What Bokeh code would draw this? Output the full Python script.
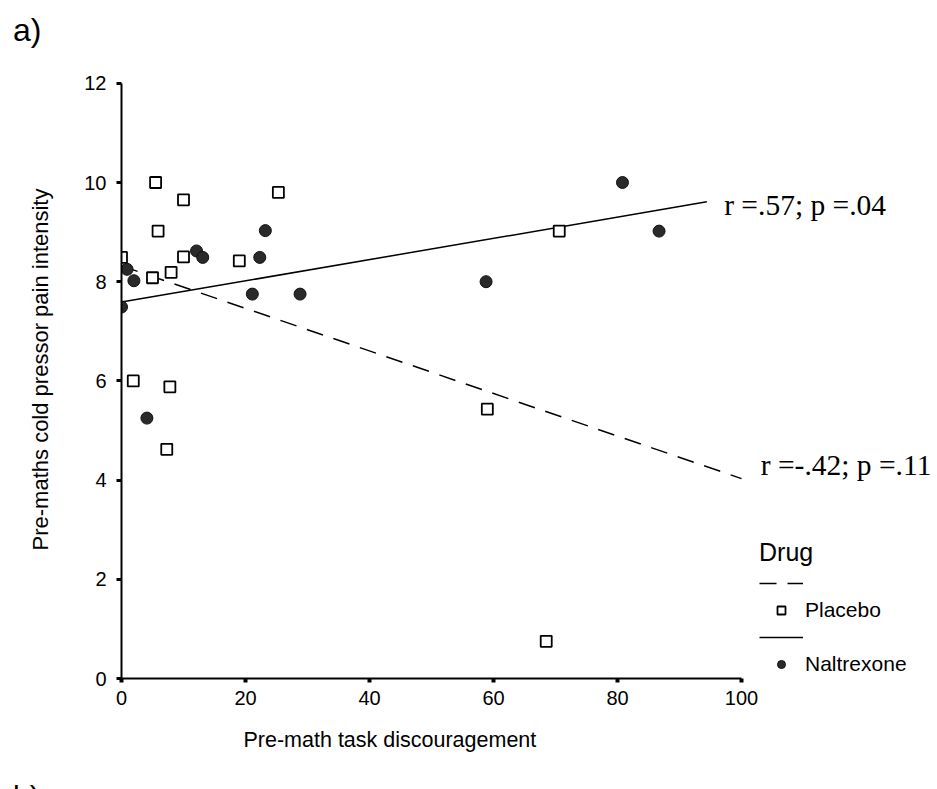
from bokeh.plotting import figure
from bokeh.layouts import column
from bokeh.models import Range1d, FixedTicker, Label, Legend, LegendItem, Title, Div
from bokeh.core.properties import value
from bokeh.embed import file_html
from bokeh.resources import INLINE

# Pre-math task discouragement (x) vs pre-maths cold pressor pain intensity (y)
placebo_x = [5.5, 10.0, 25.3, 5.9, 0.0, 10.0, 19.0, 8.0, 5.0, 1.9, 7.8, 7.3, 59.0, 68.5, 70.6]
placebo_y = [10.0, 9.65, 9.8, 9.02, 8.49, 8.5, 8.42, 8.19, 8.08, 6.0, 5.88, 4.62, 5.43, 0.75, 9.02]

naltrexone_x = [12.1, 13.1, 23.2, 22.3, 0.9, 2.0, 21.1, 28.8, 0.0, 4.1, 58.8, 80.8, 86.7]
naltrexone_y = [8.62, 8.49, 9.03, 8.49, 8.25, 8.02, 7.75, 7.75, 7.49, 5.25, 8.0, 10.0, 9.02]

# Linear fit lines per group
placebo_fit_x = [0.0, 100.0]
placebo_fit_y = [8.32, 4.03]
naltrexone_fit_x = [0.0, 94.4]
naltrexone_fit_y = [7.59, 9.61]

x_ticks = [0, 20, 40, 60, 80, 100]
y_ticks = [0, 2, 4, 6, 8, 10, 12]

SANS = "Liberation Sans"
SERIF = "Liberation Serif"

# Panel letter above the chart
panel_a = Div(text="a)", width=937, height=50,
              styles={"font-family": SANS, "font-size": "32px", "line-height": "32px",
                      "padding-left": "13px", "padding-top": "14px",
                      "overflow": "hidden", "color": "black",
                      "box-sizing": "border-box", "margin": "0"})

p = figure(width=937, height=732, output_backend="svg", toolbar_location=None,
           title=None,
           x_range=Range1d(0, 130.8), y_range=Range1d(0, 12.46),
           min_border_left=121, min_border_right=5,
           min_border_top=10, min_border_bottom=104)
p.outline_line_color = None
p.grid.visible = False
p.background_fill_color = "white"
p.border_fill_color = "white"

for ax in (p.xaxis[0], p.yaxis[0]):
    ax.axis_line_width = 2
    ax.axis_line_color = "black"
    ax.major_tick_in = 0
    ax.minor_tick_line_color = None
    ax.major_label_text_font = SANS
    ax.major_label_text_font_size = "20px"
    ax.major_label_text_color = "black"

p.xaxis.bounds = (0, 100)
p.xaxis.ticker = FixedTicker(ticks=x_ticks)
p.xaxis.major_tick_out = 4
p.xaxis.major_tick_line_width = 4
p.xaxis.major_label_standoff = 8

p.yaxis.bounds = (0, 12)
p.yaxis.ticker = FixedTicker(ticks=y_ticks)
p.yaxis.major_tick_out = 5
p.yaxis.major_tick_line_width = 3
p.yaxis.major_label_standoff = 10
p.yaxis.axis_label = "Pre-maths cold pressor pain intensity"
p.yaxis.axis_label_text_font = SANS
p.yaxis.axis_label_text_font_size = "22px"
p.yaxis.axis_label_text_font_style = "normal"
p.yaxis.axis_label_text_color = "black"
p.yaxis.axis_label_standoff = 28

# x-axis title, set left of the axis centre
p.add_layout(Title(text="Pre-math task discouragement", align="left", offset=122,
                   standoff=37, text_font=SANS, text_font_size="21.5px",
                   text_font_style="normal", text_color="black"), "below")

# Fit lines
pl_line = p.line(placebo_fit_x, placebo_fit_y, line_color="black", line_width=1.5, line_dash="17 11")
nal_line = p.line(naltrexone_fit_x, naltrexone_fit_y, line_color="black", line_width=1.5)

# Points
pl_pts = p.scatter(placebo_x, placebo_y, marker="square", size=11,
                   fill_color="white", line_color="black", line_width=1.8)
nal_pts = p.scatter(naltrexone_x, naltrexone_y, marker="circle", size=12,
                    fill_color="#2a2a2a", line_color="#111111", line_width=1)

# Correlation annotations
p.add_layout(Label(x=97.2, y=9.23, text="r =.57; p =.04", text_font=SERIF,
                   text_font_size="29.5px", text_color="black"))
p.add_layout(Label(x=103.1, y=3.98, text="r =-.42; p =.11", text_font=SERIF,
                   text_font_size="29.5px", text_color="black"))

legend = Legend(items=[
    LegendItem(label=value(""), renderers=[pl_line]),
    LegendItem(label=value("Placebo"), renderers=[pl_pts]),
    LegendItem(label=value(""), renderers=[nal_line]),
    LegendItem(label=value("Naltrexone"), renderers=[nal_pts]),
], location=(638, 2), title="Drug")
legend.title_text_font = SANS
legend.title_text_font_size = "25px"
legend.title_text_font_style = "normal"
legend.title_text_color = "black"
legend.title_standoff = 6
legend.label_text_font = SANS
legend.label_text_font_size = "21px"
legend.label_text_color = "black"
legend.glyph_width = 44
legend.glyph_height = 20
legend.label_height = 20
legend.spacing = 5
legend.label_standoff = 2
legend.padding = 0
legend.margin = 0
legend.border_line_color = None
legend.background_fill_alpha = 0
p.add_layout(legend)

# Start of the next panel letter, running off the bottom edge
panel_b = Div(text="b)", width=937, height=7,
              styles={"font-family": SANS, "font-size": "30px", "line-height": "30px",
                      "padding-left": "13px", "padding-top": "0px",
                      "overflow": "hidden", "color": "black",
                      "box-sizing": "border-box", "margin": "0"})

layout = column(panel_a, p, panel_b, spacing=0)
open("out.html", "w").write(file_html(layout, INLINE))
